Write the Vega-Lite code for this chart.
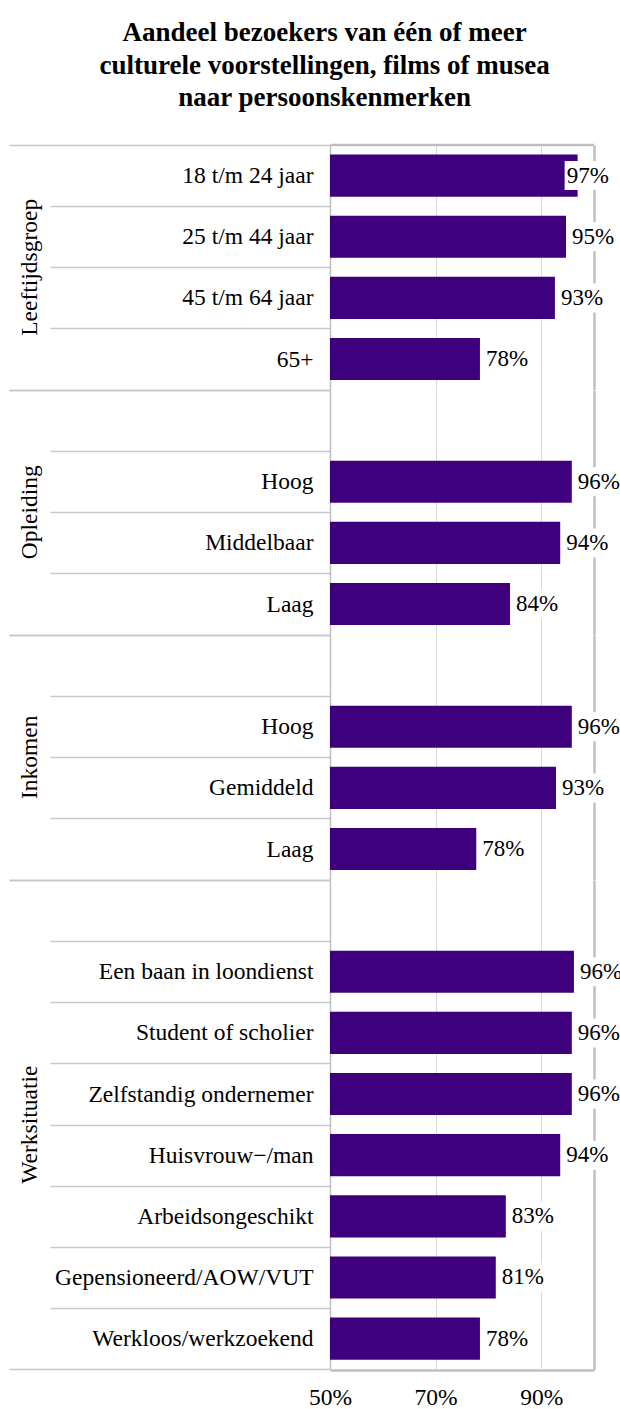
{
  "$schema": "https://vega.github.io/schema/vega-lite/v6.json",
  "background": "white",
  "padding": {"left": 8, "top": 19, "right": 0, "bottom": 0},
  "bounds": "flush",
  "title": {
    "text": ["Aandeel bezoekers van één of meer", "culturele voorstellingen, films of musea", "naar persoonskenmerken"],
    "font": "Liberation Serif",
    "fontSize": 27,
    "fontWeight": "bold",
    "lineHeight": 32.5,
    "color": "black",
    "anchor": "middle",
    "frame": "bounds",
    "dx": 9,
    "offset": 21
  },
  "data": {
    "values": [
      {"groep": "Leeftijdsgroep", "kenmerk": "18 t/m 24 jaar", "waarde": 0.969},
      {"groep": "Leeftijdsgroep", "kenmerk": "25 t/m 44 jaar", "waarde": 0.947},
      {"groep": "Leeftijdsgroep", "kenmerk": "45 t/m 64 jaar", "waarde": 0.926},
      {"groep": "Leeftijdsgroep", "kenmerk": "65+", "waarde": 0.784},
      {"groep": "Opleiding", "kenmerk": " ", "waarde": null},
      {"groep": "Opleiding", "kenmerk": "Hoog", "waarde": 0.958},
      {"groep": "Opleiding", "kenmerk": "Middelbaar", "waarde": 0.936},
      {"groep": "Opleiding", "kenmerk": "Laag", "waarde": 0.841},
      {"groep": "Inkomen", "kenmerk": " ", "waarde": null},
      {"groep": "Inkomen", "kenmerk": "Hoog", "waarde": 0.958},
      {"groep": "Inkomen", "kenmerk": "Gemiddeld", "waarde": 0.928},
      {"groep": "Inkomen", "kenmerk": "Laag", "waarde": 0.777},
      {"groep": "Werksituatie", "kenmerk": " ", "waarde": null},
      {"groep": "Werksituatie", "kenmerk": "Een baan in loondienst", "waarde": 0.962},
      {"groep": "Werksituatie", "kenmerk": "Student of scholier", "waarde": 0.958},
      {"groep": "Werksituatie", "kenmerk": "Zelfstandig ondernemer", "waarde": 0.958},
      {"groep": "Werksituatie", "kenmerk": "Huisvrouw−/man", "waarde": 0.936},
      {"groep": "Werksituatie", "kenmerk": "Arbeidsongeschikt", "waarde": 0.833},
      {"groep": "Werksituatie", "kenmerk": "Gepensioneerd/AOW/VUT", "waarde": 0.814},
      {"groep": "Werksituatie", "kenmerk": "Werkloos/werkzoekend", "waarde": 0.784}
    ]
  },
  "facet": {
    "row": {
      "field": "groep",
      "type": "nominal",
      "sort": ["Leeftijdsgroep", "Opleiding", "Inkomen", "Werksituatie"],
      "header": {
        "title": null,
        "labelOrient": "left",
        "labelAngle": -90,
        "labelFont": "Liberation Serif",
        "labelFontSize": 23.5,
        "labelColor": "black",
        "labelPadding": 277
      }
    }
  },
  "spacing": 0,
  "resolve": {"scale": {"y": "independent"}},
  "spec": {
    "width": 264,
    "height": {"step": 61.15},
    "encoding": {
      "y": {
        "field": "kenmerk",
        "type": "nominal",
        "sort": [" ", "18 t/m 24 jaar", "25 t/m 44 jaar", "45 t/m 64 jaar", "65+", "Hoog", "Middelbaar", "Gemiddeld", "Laag", "Een baan in loondienst", "Student of scholier", "Zelfstandig ondernemer", "Huisvrouw−/man", "Arbeidsongeschikt", "Gepensioneerd/AOW/VUT", "Werkloos/werkzoekend"],
        "scale": {"paddingInner": 0, "paddingOuter": 0},
        "axis": {
          "title": null,
          "domain": true,
          "domainColor": "#bfbfbf",
          "domainWidth": 1.5,
          "ticks": true,
          "tickBand": "extent",
          "tickSize": {"condition": {"test": "datum.index == -1 || datum.index == 1", "value": 321}, "value": 280},
          "tickColor": "#c8c8c8",
          "tickWidth": 1.5,
          "labelPadding": {"condition": {"test": "datum.index == 1", "value": -304}, "value": -263},
          "labelFont": "Liberation Serif",
          "labelFontSize": 23.5,
          "labelColor": "black",
          "labelLimit": 320
        }
      }
    },
    "layer": [
      {
        "mark": {"type": "bar", "color": "#3F007D", "height": {"band": 0.69}, "invalid": "break-paths-show-domains"},
        "encoding": {
          "x": {
            "field": "waarde",
            "type": "quantitative",
            "scale": {"domain": [0.5, 1], "zero": false, "nice": false},
            "axis": {
              "orient": "bottom",
              "title": null,
              "values": [0.5, 0.7, 0.9, 1],
              "format": ".0%",
              "labelExpr": "datum.value == 1 ? '' : datum.label",
              "labelFlush": false,
              "grid": true,
              "gridColor": {"condition": {"test": "datum.value == 1", "value": "#bfbfbf"}, "value": "#d9d9d9"},
              "gridWidth": {"condition": {"test": "datum.value == 1", "value": 2.5}, "value": 1},
              "domain": true,
              "domainColor": "#bfbfbf",
              "domainWidth": 2.5,
              "ticks": false,
              "labelPadding": 15,
              "labelFont": "Liberation Serif",
              "labelFontSize": 23.5,
              "labelColor": "black"
            }
          },
          "x2": {"datum": 0.5}
        }
      },
      {
        "transform": [{"filter": "datum.groep == 'Leeftijdsgroep' && datum.kenmerk == '18 t/m 24 jaar'"}],
        "mark": {"type": "rule", "color": "#bfbfbf", "strokeWidth": 2.5},
        "encoding": {
          "y": {"field": "kenmerk", "type": "nominal", "bandPosition": 0, "sort": [" ", "18 t/m 24 jaar", "25 t/m 44 jaar", "45 t/m 64 jaar", "65+", "Hoog", "Middelbaar", "Gemiddeld", "Laag", "Een baan in loondienst", "Student of scholier", "Zelfstandig ondernemer", "Huisvrouw−/man", "Arbeidsongeschikt", "Gepensioneerd/AOW/VUT", "Werkloos/werkzoekend"]},
          "x": {"datum": 0.5},
          "x2": {"datum": 1}
        }
      },
      {
        "transform": [{"filter": "datum.waarde != null && datum.waarde < 0.965"}],
        "mark": {"type": "bar", "color": "white", "height": 29, "xOffset": 4, "x2Offset": 49},
        "encoding": {
          "x": {"field": "waarde", "type": "quantitative"},
          "x2": {"field": "waarde"}
        }
      },
      {
        "transform": [{"filter": "datum.waarde != null && datum.waarde >= 0.965"}],
        "mark": {"type": "bar", "color": "white", "height": 29, "xOffset": -13, "x2Offset": 33},
        "encoding": {
          "x": {"field": "waarde", "type": "quantitative"},
          "x2": {"field": "waarde"}
        }
      },
      {
        "transform": [{"filter": "datum.waarde != null && datum.waarde < 0.965"}],
        "mark": {"type": "text", "align": "left", "baseline": "middle", "dx": 6, "font": "Liberation Serif", "fontSize": 23, "color": "black"},
        "encoding": {
          "x": {"field": "waarde", "type": "quantitative"},
          "text": {"field": "waarde", "type": "quantitative", "format": ".0%"}
        }
      },
      {
        "transform": [{"filter": "datum.waarde != null && datum.waarde >= 0.965"}],
        "mark": {"type": "text", "align": "left", "baseline": "middle", "dx": -11, "font": "Liberation Serif", "fontSize": 23, "color": "black"},
        "encoding": {
          "x": {"field": "waarde", "type": "quantitative"},
          "text": {"field": "waarde", "type": "quantitative", "format": ".0%"}
        }
      }
    ]
  },
  "config": {
    "view": {"stroke": null},
    "font": "Liberation Serif"
  }
}
